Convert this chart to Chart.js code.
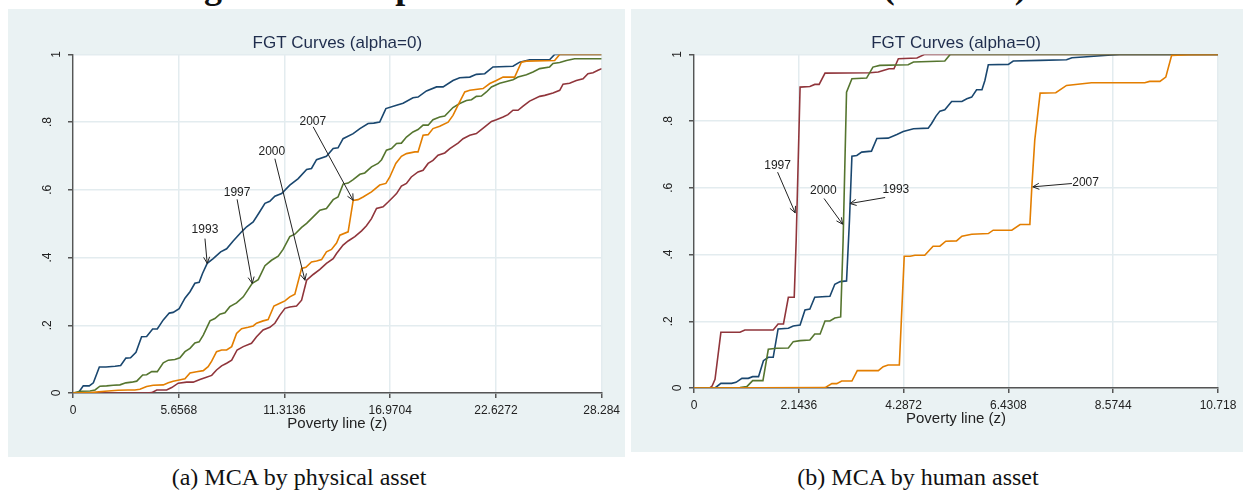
<!DOCTYPE html>
<html>
<head>
<meta charset="utf-8">
<title>FGT curves by MCA asset index</title>
<script src="https://cdn.jsdelivr.net/npm/chart.js@4.4.1/dist/chart.umd.min.js"></script>
<style>
    body {
        margin: 0;
        width: 1245px;
        height: 491px;
        position: relative;
        overflow: hidden;
        background: #ffffff;
    }
    canvas.panel {
        position: absolute;
        background: #eaf2f3;
    }
    #physical { left: 8px; top: 9px; }
    #human { left: 631px; top: 9px; }
    svg.heading {
        position: absolute;
        left: 0;
        top: 0;
    }
    .caption {
        position: absolute;
        top: 465px;
        font: 24px/24px "Liberation Serif", "Times New Roman", serif;
        color: #111;
        white-space: nowrap;
        transform: translateX(-50%);
    }
</style>
</head>
<body>
<svg class="heading" width="1245" height="12">
    <text x="172" y="-2" font-family="Liberation Serif, Times New Roman, serif" font-weight="bold" font-size="36" fill="#111">Figure 3: Comparison of FGT curves in MCA (1993-07)</text>
</svg>
<canvas id="physical" class="panel" width="617" height="448"></canvas>
<canvas id="human" class="panel" width="612" height="443"></canvas>
<div class="caption" style="left: 299px;">(a) MCA by physical asset</div>
<div class="caption" style="left: 918px;">(b) MCA by human asset</div>

<script>
// Axis ticks
const physicalTicks = [0, 5.6568, 11.3136, 16.9704, 22.6272, 28.284];
const humanTicks = [0, 2.1436, 4.2872, 6.4308, 8.5744, 10.718];
const shareTicks = [0, 0.2, 0.4, 0.6, 0.8, 1];
const shareLabels = ['0', '.2', '.4', '.6', '.8', '1'];
const years = ['1993', '1997', '2000', '2007'];

// Headcount (alpha=0) curves, [poverty line z, share poor]
// MCA by physical asset
const physical1993 = [[0,0],[0.28,0],[0.55,0.021],[0.87,0.021],[1.09,0.030],[1.41,0.077],[1.76,0.077],[2.25,0.079],[2.55,0.081],[2.83,0.103],[3.08,0.104],[3.37,0.120],[3.67,0.166],[3.94,0.167],[4.26,0.189],[4.51,0.189],[4.83,0.216],[5.15,0.236],[5.36,0.238],[5.68,0.249],[5.99,0.280],[6.26,0.299],[6.52,0.324],[6.75,0.327],[6.93,0.353],[7.18,0.383],[7.50,0.397],[7.90,0.417],[8.22,0.426],[8.57,0.449],[9.02,0.476],[9.29,0.491],[9.64,0.505],[9.94,0.531],[10.27,0.560],[10.53,0.566],[10.80,0.581],[11.16,0.589],[11.60,0.614],[12.05,0.633],[12.50,0.660],[12.76,0.663],[13.03,0.689],[13.56,0.699],[13.92,0.722],[14.18,0.724],[14.45,0.751],[14.99,0.766],[15.35,0.781],[15.79,0.796],[16.09,0.797],[16.41,0.800],[16.74,0.840],[17.31,0.850],[17.66,0.856],[18.19,0.872],[18.46,0.874],[18.91,0.892],[19.45,0.904],[19.80,0.904],[20.33,0.923],[20.69,0.931],[21.23,0.933],[21.58,0.941],[22.03,0.943],[22.47,0.963],[23.54,0.965],[23.90,0.977],[24.43,0.984],[25.50,0.984],[25.77,1],[28.284,1]];
const physical1997 = [[0,0],[3.94,0],[4.21,0.001],[4.48,0.009],[5.01,0.009],[5.28,0.016],[5.63,0.029],[6.08,0.032],[6.43,0.032],[6.79,0.040],[7.06,0.045],[7.42,0.052],[7.68,0.068],[7.95,0.080],[8.22,0.088],[8.49,0.097],[8.78,0.127],[9.11,0.137],[9.55,0.147],[9.82,0.166],[10.17,0.186],[10.53,0.194],[10.80,0.206],[11.07,0.230],[11.34,0.250],[11.60,0.254],[11.96,0.257],[12.23,0.274],[12.50,0.333],[12.85,0.350],[13.21,0.365],[13.56,0.383],[13.92,0.397],[14.10,0.412],[14.45,0.437],[14.72,0.449],[15.08,0.462],[15.44,0.479],[15.70,0.494],[15.97,0.515],[16.24,0.545],[16.59,0.550],[16.86,0.564],[17.13,0.579],[17.31,0.589],[17.57,0.611],[17.84,0.619],[18.10,0.638],[18.46,0.653],[18.73,0.658],[19.00,0.678],[19.26,0.687],[19.53,0.702],[19.89,0.709],[20.16,0.722],[20.60,0.738],[20.87,0.751],[21.23,0.761],[21.58,0.766],[22.03,0.786],[22.39,0.802],[22.65,0.807],[23.01,0.815],[23.27,0.822],[23.54,0.835],[23.81,0.835],[24.08,0.847],[24.43,0.862],[24.97,0.876],[25.24,0.879],[25.68,0.886],[26.04,0.894],[26.22,0.912],[26.57,0.915],[26.93,0.923],[27.29,0.928],[27.55,0.943],[27.82,0.946],[28.09,0.953],[28.284,0.958]];
const physical2000 = [[0,0],[0.37,0.005],[0.91,0.006],[1.18,0.009],[1.44,0.020],[1.80,0.021],[2.15,0.023],[2.51,0.024],[2.83,0.030],[3.14,0.032],[3.41,0.035],[3.73,0.053],[3.94,0.054],[4.21,0.063],[4.51,0.063],[4.83,0.089],[5.10,0.097],[5.45,0.099],[5.72,0.104],[5.99,0.122],[6.26,0.132],[6.52,0.148],[6.75,0.151],[6.97,0.171],[7.33,0.213],[7.59,0.220],[7.86,0.233],[8.13,0.237],[8.39,0.255],[8.75,0.266],[9.11,0.284],[9.59,0.324],[9.91,0.335],[10.27,0.376],[10.62,0.392],[10.98,0.404],[11.24,0.424],[11.60,0.462],[11.87,0.469],[12.23,0.489],[12.50,0.501],[12.85,0.520],[13.21,0.540],[13.56,0.545],[13.92,0.571],[14.18,0.579],[14.45,0.617],[14.72,0.620],[14.99,0.630],[15.35,0.646],[15.61,0.650],[15.97,0.668],[16.32,0.678],[16.51,0.689],[16.77,0.717],[17.04,0.722],[17.31,0.737],[17.57,0.738],[17.84,0.756],[18.19,0.771],[18.46,0.778],[18.73,0.791],[19.00,0.791],[19.26,0.807],[19.62,0.815],[19.89,0.818],[20.33,0.843],[20.69,0.855],[21.05,0.864],[21.32,0.866],[21.58,0.876],[21.85,0.877],[22.12,0.889],[22.39,0.904],[22.83,0.915],[23.19,0.920],[23.54,0.925],[23.81,0.933],[24.26,0.940],[24.61,0.948],[24.97,0.958],[25.50,0.963],[25.68,0.973],[26.04,0.976],[26.40,0.982],[26.84,0.987],[28.284,0.987]];
const physical2007 = [[0,0],[0.91,0.001],[1.71,0.005],[2.41,0.008],[2.94,0.009],[3.31,0.009],[3.58,0.011],[3.94,0.019],[4.29,0.023],[4.83,0.024],[5.10,0.030],[5.36,0.035],[5.81,0.040],[5.99,0.042],[6.26,0.059],[6.61,0.063],[6.97,0.066],[7.23,0.078],[7.42,0.094],[7.68,0.122],[7.95,0.127],[8.22,0.127],[8.49,0.137],[8.75,0.176],[9.02,0.190],[9.37,0.194],[9.64,0.198],[9.82,0.206],[10.17,0.213],[10.44,0.217],[10.75,0.257],[11.07,0.265],[11.34,0.272],[11.60,0.284],[11.87,0.292],[12.23,0.368],[12.46,0.371],[12.76,0.387],[13.03,0.390],[13.30,0.394],[13.56,0.417],[13.83,0.424],[14.10,0.443],[14.28,0.466],[14.72,0.476],[14.99,0.569],[15.25,0.571],[15.52,0.579],[15.97,0.594],[16.41,0.614],[16.74,0.619],[16.95,0.638],[17.27,0.678],[17.57,0.699],[17.84,0.707],[18.29,0.712],[18.46,0.712],[18.73,0.761],[19.00,0.763],[19.26,0.781],[19.62,0.788],[20.07,0.800],[20.33,0.820],[20.60,0.850],[20.96,0.889],[21.23,0.894],[21.94,0.899],[22.30,0.914],[22.65,0.923],[23.01,0.933],[23.63,0.933],[23.99,0.977],[24.26,0.980],[25.77,0.982],[26.04,1],[28.284,1]];

// MCA by human asset
const human1993 = [[0,0],[0.43,0],[0.55,0.014],[0.77,0.014],[0.86,0.017],[0.98,0.029],[1.11,0.029],[1.20,0.034],[1.32,0.034],[1.42,0.082],[1.52,0.092],[1.62,0.092],[1.72,0.177],[1.93,0.179],[2.03,0.186],[2.17,0.189],[2.27,0.234],[2.37,0.237],[2.47,0.272],[2.78,0.275],[2.88,0.311],[2.99,0.319],[3.12,0.321],[3.18,0.503],[3.23,0.695],[3.33,0.697],[3.43,0.707],[3.63,0.710],[3.74,0.748],[3.97,0.749],[4.15,0.760],[4.28,0.769],[4.49,0.777],[4.79,0.779],[4.86,0.793],[4.95,0.815],[5.03,0.830],[5.13,0.834],[5.27,0.859],[5.48,0.859],[5.58,0.867],[5.68,0.872],[5.78,0.894],[5.89,0.894],[5.95,0.922],[6.02,0.969],[6.43,0.970],[6.53,0.980],[7.08,0.982],[7.62,0.984],[7.73,0.990],[7.96,0.992],[8.54,0.998],[8.71,1],[10.718,1]];
const human1997 = [[0,0],[0.33,0.001],[0.37,0.006],[0.43,0.026],[0.55,0.167],[0.94,0.167],[1.04,0.174],[1.62,0.174],[1.72,0.192],[1.83,0.192],[1.93,0.272],[2.05,0.272],[2.09,0.443],[2.17,0.902],[2.37,0.904],[2.47,0.910],[2.56,0.910],[2.68,0.944],[3.60,0.945],[3.77,0.947],[3.87,0.952],[3.99,0.957],[4.09,0.957],[4.18,0.987],[4.56,0.989],[4.72,1],[10.718,1]];
const human2000 = [[0,0],[0.94,0.001],[1.08,0.004],[1.20,0.022],[1.41,0.022],[1.52,0.116],[1.69,0.119],[1.93,0.120],[2.03,0.139],[2.17,0.142],[2.37,0.144],[2.47,0.162],[2.58,0.162],[2.68,0.201],[2.78,0.201],[2.88,0.210],[3.00,0.213],[3.05,0.443],[3.12,0.887],[3.23,0.927],[3.53,0.929],[3.66,0.962],[3.80,0.967],[4.38,0.969],[4.49,0.977],[5.13,0.980],[5.24,1],[10.718,1]];
const human2007 = [[0,0],[2.68,0.001],[2.82,0.013],[2.92,0.013],[3.02,0.021],[3.23,0.021],[3.34,0.052],[3.77,0.052],[3.87,0.064],[3.97,0.069],[4.20,0.069],[4.30,0.395],[4.42,0.395],[4.52,0.398],[4.72,0.398],[4.89,0.425],[5.03,0.425],[5.15,0.440],[5.37,0.441],[5.48,0.455],[5.68,0.461],[6.02,0.463],[6.12,0.473],[6.50,0.473],[6.67,0.490],[6.87,0.490],[6.91,0.603],[6.97,0.743],[7.08,0.884],[7.40,0.885],[7.62,0.907],[8.13,0.915],[9.22,0.915],[9.32,0.919],[9.53,0.919],[9.65,0.932],[9.77,0.997],[10.11,0.999],[10.718,1]];

// Year labels with arrows: text centre, arrow tail, arrow head
const physicalNotes = [
    {text: '1993', at: [7.06, 0.481], from: [7.06, 0.456], to: [7.18, 0.383]},
    {text: '1997', at: [8.78, 0.592], from: [8.78, 0.572], to: [9.59, 0.324]},
    {text: '2000', at: [10.64, 0.714], from: [10.80, 0.692], to: [12.41, 0.333]},
    {text: '2007', at: [12.83, 0.802], from: [12.85, 0.786], to: [14.99, 0.569]}
];
const humanNotes = [
    {text: '1997', at: [1.71, 0.666], from: [1.71, 0.647], to: [2.07, 0.525]},
    {text: '2000', at: [2.645, 0.590], from: [2.66, 0.568], to: [3.04, 0.491]},
    {text: '1993', at: [4.13, 0.593], from: [3.91, 0.571], to: [3.19, 0.553]},
    {text: '2007', at: [8.01, 0.615], from: [7.73, 0.613], to: [6.93, 0.603]}
];

const lineColors = ['#1a476f', '#90353b', '#55752f', '#e37e00'];
const FONT = '"Liberation Sans", Arial, sans-serif';
Chart.defaults.font.family = FONT;


// White plot region on the tinted panel
const plotBackground = {
    id: 'plotBackground',
    beforeDraw(chart) {
        const {ctx, chartArea: a} = chart;
        ctx.save();
        ctx.fillStyle = '#ffffff';
        ctx.fillRect(a.left, a.top, a.right - a.left, a.bottom - a.top);
        ctx.restore();
    }
};

// Vertical y tick labels, reading upwards
const shareLabelsPlugin = {
    id: 'shareLabels',
    afterDraw(chart) {
        const {ctx, chartArea, scales: {y}} = chart;
        ctx.save();
        ctx.font = `12px ${FONT}`;
        ctx.fillStyle = '#222';
        ctx.textAlign = 'center';
        ctx.textBaseline = 'middle';
        shareTicks.forEach((v, i) => {
            const label = shareLabels[i];
            const dx = label.startsWith('.') ? 25 : 16;
            ctx.save();
            ctx.translate(chartArea.left - dx, y.getPixelForValue(v));
            ctx.rotate(-Math.PI / 2);
            ctx.fillText(label, 0, 0);
            ctx.restore();
        });
        ctx.restore();
    }
};

const arrowNotes = {
    id: 'arrowNotes',
    afterDatasetsDraw(chart, args, opts) {
        const {ctx, scales: {x, y}} = chart;
        const px = (p) => [x.getPixelForValue(p[0]), y.getPixelForValue(p[1])];
        ctx.save();
        ctx.strokeStyle = '#222';
        ctx.fillStyle = '#222';
        ctx.lineWidth = 1;
        ctx.font = `12px ${FONT}`;
        ctx.textAlign = 'center';
        ctx.textBaseline = 'middle';
        for (const note of opts.notes) {
            const [tx, ty] = px(note.at);
            ctx.fillText(note.text, tx, ty);
            const [x0, y0] = px(note.from);
            const [x1, y1] = px(note.to);
            const ang = Math.atan2(y1 - y0, x1 - x0);
            ctx.beginPath();
            ctx.moveTo(x0, y0);
            ctx.lineTo(x1, y1);
            for (const s of [-1, 1]) {
                ctx.moveTo(x1, y1);
                ctx.lineTo(x1 - 7 * Math.cos(ang + s * 0.45), y1 - 7 * Math.sin(ang + s * 0.45));
            }
            ctx.stroke();
        }
        ctx.restore();
    }
};


function fgtChart(canvasId, series, zTicks, notes, leftWidth, rightPad) {
    const datasets = series.map((pairs, i) => ({
        label: years[i],
        data: pairs.map(([x, y]) => ({x, y})),
        borderColor: lineColors[i],
        borderWidth: 1.6,
        pointRadius: 0,
        tension: 0,
        order: series.length - i    // later years drawn on top
    }));

    return new Chart(document.getElementById(canvasId), {
        type: 'line',
        data: {datasets},
        plugins: [plotBackground, shareLabelsPlugin, arrowNotes],
        options: {
            responsive: false,
            animation: false,
            devicePixelRatio: 1,
            layout: {padding: {top: 0, right: rightPad, bottom: 0, left: 0}},
            plugins: {
                legend: {display: false},
                tooltip: {enabled: false},
                title: {
                    display: true,
                    fullSize: false,    // centre over the plot region
                    text: 'FGT Curves (alpha=0)',
                    color: '#1f2d4d',
                    font: {size: 17, weight: 'normal'},
                    padding: {top: 24, bottom: 1}
                },
                arrowNotes: {notes}
            },
            scales: {
                x: {
                    type: 'linear',
                    min: 0,
                    max: zTicks[zTicks.length - 1],
                    afterBuildTicks: (scale) => {
                        scale.ticks = zTicks.map((value) => ({value}));
                    },
                    afterFit: (scale) => { scale.height = 64; },
                    ticks: {
                        color: '#222',
                        font: {size: 12},
                        padding: 5,
                        maxRotation: 0,
                        callback: (value) => String(value)
                    },
                    grid: {color: '#e3ecef', lineWidth: 1.5, tickLength: 5, tickColor: '#555'},
                    border: {display: true, color: '#555', width: 1.4},
                    title: {
                        display: true,
                        text: 'Poverty line (z)',
                        color: '#222',
                        font: {size: 15},
                        padding: {top: 0, bottom: 24}
                    }
                },
                y: {
                    type: 'linear',
                    min: 0,
                    max: 1,
                    afterBuildTicks: (scale) => {
                        scale.ticks = shareTicks.map((value) => ({value}));
                    },
                    afterFit: (scale) => { scale.width = leftWidth; },
                    ticks: {display: false},
                    grid: {color: '#e3ecef', lineWidth: 1.5, tickLength: 5, tickColor: '#555'},
                    border: {display: true, color: '#555', width: 1.4}
                }
            }
        }
    });
}

fgtChart('physical', [physical1993, physical1997, physical2000, physical2007], physicalTicks, physicalNotes, 65, 23);
fgtChart('human', [human1993, human1997, human2000, human2007], humanTicks, humanNotes, 63, 25);
</script>
</body>
</html>
